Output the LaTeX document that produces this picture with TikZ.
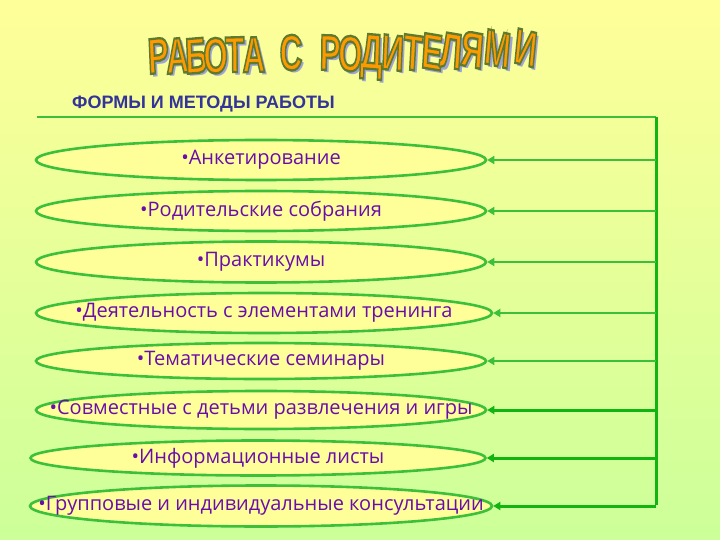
\documentclass[tikz,border=0pt]{standalone}
\usepackage{fontspec}
\setmainfont{Open Sans}
\newfontfamily\headfont{Liberation Sans}
\usetikzlibrary{shapes.geometric,arrows.meta}

\definecolor{bgtop}{HTML}{FFFF99}
\definecolor{bgbot}{HTML}{CCFF99}
\definecolor{formfill}{HTML}{FFFF99}
\definecolor{formline}{HTML}{3CC03C}
\definecolor{linkdark}{HTML}{11B411}
\definecolor{itemtext}{HTML}{6A0DAD}
\definecolor{headblue}{HTML}{333399}
\definecolor{titleorange}{HTML}{FF9900}
\definecolor{titleshadow}{HTML}{9EA3D6}

% orange letters with a thin olive outline
\newcommand\outlined[1]{\special{pdf:literal direct 2 Tr 1.3 w 0.37 0.48 0.18 RG}#1\special{pdf:literal direct 0 Tr}}

\tikzset{
  form/.style={ellipse, draw=formline, line width=2.6pt, fill=formfill, inner sep=0pt},
  formtext/.style={inner sep=0pt, text=itemtext, font=\fontsize{20}{22}\selectfont},
  link/.style={draw=formline, line width=2.6pt, -{Triangle[length=7pt,width=8pt]}},
  linkstrong/.style={link, draw=linkdark, line width=3pt},
  titlechar/.style={inner sep=0pt, anchor=base, xscale=1.12, yscale=1.8, transform shape,
    font=\headfont\bfseries\fontsize{28}{28}\selectfont},
  head/.style={inner sep=0pt, anchor=west, text=headblue,
    font=\headfont\bfseries\fontsize{18}{18}\selectfont}
}

\begin{document}
\begin{tikzpicture}[x=1pt,y=-1pt]
% Background
\shade[top color=bgtop, bottom color=bgbot] (0,0) rectangle (720,540);
\useasboundingbox (0,0) rectangle (720,540);

% Title, letter by letter on an arch
\foreach \ch/\x/\y/\r [count=\i] in {Р/159/73/4, А/178/73/3, Б/197/73/3, О/216/73/2,
    Т/235/72/1, А/254/72/1, С/291/70/0, Р/330/70/-1, О/350/71/-2, Д/371/69/-3,
    И/392/70/-4, Т/412/70/-5, Е/431/69/-6, Л/450/68/-6, Я/471/67/-7, М/496/66/-8,
    И/524/65/-9}{
  \node[titlechar, rotate=\r, text=titleshadow] (ts\i) at (\x+3,\y+3) {\ch};
  \node[titlechar, rotate=\r, text=titleorange] (t\i) at (\x,\y) {\outlined{\ch}};
}

\node[head] (head) at (72,104) {ФОРМЫ И МЕТОДЫ РАБОТЫ};

% Forms of work
\foreach \n/\x/\y/\w/\h/\txt in {1/261/160/450/40/Анкетирование,
    2/261/211/450/40/Родительские собрания,
    3/261/262/450/41/Практикумы,
    4/264/313/456/40/Деятельность с элементами тренинга,
    5/261/361/450/36/Тематические семинары,
    6/261/410/450/38/Совместные с детьми развлечения и игры,
    7/258/458/455/35/Информационные листы,
    8/261/506/462/41/Групповые и индивидуальные консультации}{
  \node[form, minimum width=\w pt, minimum height=\h pt] (f\n) at (\x,\y) {};
  \node[formtext] (l\n) at (f\n) {•\txt};
}

% Frame and arrows
\coordinate (tl) at (37,117);
\coordinate (tr) at (656,117);
\coordinate (br) at (656,505);
\draw[formline, line width=2.6pt] (tl) -- (tr);
\draw[linkdark, line width=3pt] (tr) -- (br);
\foreach \n in {1,...,5}
  \draw[link] (tr |- f\n.east) -- (f\n.east);
\foreach \n in {6,7,8}
  \draw[linkstrong] (tr |- f\n.east) -- (f\n.east);
\end{tikzpicture}
\end{document}
